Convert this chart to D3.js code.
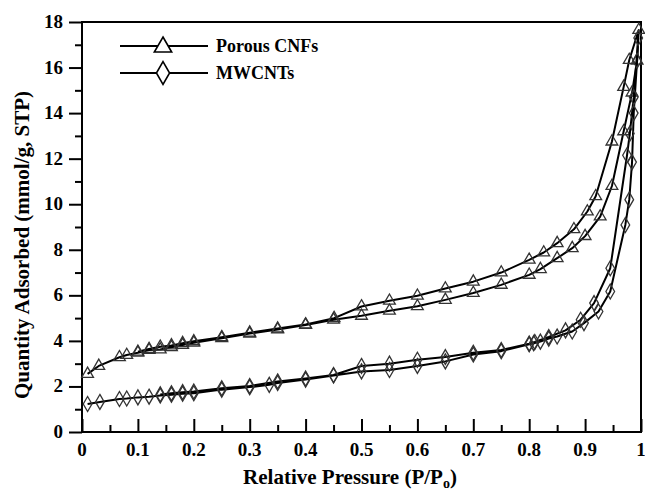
<!DOCTYPE html>
<html>
<head>
<meta charset="utf-8">
<script src="https://cdn.jsdelivr.net/npm/d3@7"></script>
<style>
  body { margin: 0; background: #fff; }
  svg text { font-family: 'Liberation Serif', 'Times New Roman', serif; font-weight: bold; fill: #000; }
</style>
</head>
<body>
<div id="chart"></div>
<script>
// Porous CNFs — adsorption branch then desorption branch [P/Po, mmol/g]
const cnfAds = [
  [0.01, 2.55], [0.03, 2.9], [0.067, 3.28], [0.08, 3.38], [0.1, 3.48], [0.12, 3.6],
  [0.14, 3.62], [0.16, 3.72], [0.18, 3.82], [0.2, 3.92], [0.25, 4.12], [0.3, 4.32],
  [0.35, 4.5], [0.4, 4.7], [0.45, 4.93], [0.5, 5.1], [0.55, 5.32], [0.6, 5.52],
  [0.65, 5.8], [0.7, 6.1], [0.75, 6.46], [0.8, 6.9], [0.82, 7.15], [0.85, 7.63],
  [0.877, 8.07], [0.9, 8.6], [0.927, 9.46], [0.948, 10.8], [0.969, 13.2],
  [0.984, 14.9], [0.993, 16.3], [0.996, 17.65]
];
const cnfDes = [
  [0.996, 17.65], [0.979, 16.33], [0.969, 15.15], [0.948, 12.75], [0.919, 10.35],
  [0.904, 9.68], [0.88, 8.9], [0.85, 8.29], [0.826, 7.88], [0.8, 7.56], [0.75, 7.0],
  [0.7, 6.6], [0.65, 6.3], [0.6, 5.98], [0.55, 5.76], [0.5, 5.51], [0.451, 5.0],
  [0.4, 4.72], [0.35, 4.54], [0.3, 4.36], [0.25, 4.16], [0.2, 3.98], [0.18, 3.9],
  [0.16, 3.8], [0.14, 3.74], [0.12, 3.64], [0.1, 3.52]
];

// MWCNTs
const mwAds = [
  [0.01, 1.23], [0.032, 1.32], [0.067, 1.45], [0.08, 1.47], [0.1, 1.52], [0.12, 1.55],
  [0.14, 1.6], [0.16, 1.64], [0.18, 1.68], [0.2, 1.7], [0.25, 1.86], [0.3, 1.97],
  [0.335, 2.07], [0.35, 2.15], [0.4, 2.3], [0.45, 2.48], [0.5, 2.66], [0.55, 2.72],
  [0.6, 2.9], [0.65, 3.1], [0.7, 3.4], [0.75, 3.55], [0.8, 3.85], [0.808, 3.9],
  [0.82, 3.97], [0.835, 4.1], [0.85, 4.19], [0.877, 4.41], [0.898, 4.78],
  [0.924, 5.29], [0.945, 6.17], [0.972, 9.09], [0.979, 10.2], [0.984, 11.85],
  [0.987, 14.0], [0.993, 16.3], [0.995, 17.3]
];
const mwDes = [
  [0.995, 17.3], [0.987, 14.7], [0.98, 13.1], [0.975, 12.15], [0.945, 7.19],
  [0.916, 5.66], [0.892, 4.93], [0.865, 4.46], [0.835, 4.17], [0.81, 3.95],
  [0.8, 3.88], [0.75, 3.6], [0.7, 3.48], [0.65, 3.29], [0.6, 3.17], [0.55, 3.0],
  [0.5, 2.9], [0.45, 2.5], [0.4, 2.35], [0.35, 2.22], [0.3, 2.02], [0.25, 1.92],
  [0.2, 1.78], [0.18, 1.75], [0.16, 1.7], [0.14, 1.65]
];

const xTicks = [0, 0.1, 0.2, 0.3, 0.4, 0.5, 0.6, 0.7, 0.8, 0.9, 1];
const xMinor = [0.05, 0.15, 0.25, 0.35, 0.45, 0.55, 0.65, 0.75, 0.85, 0.95];
const yTicks = [0, 2, 4, 6, 8, 10, 12, 14, 16, 18];
const yMinor = [1, 3, 5, 7, 9, 11, 13, 15, 17];

const seriesNames = ['Porous CNFs', 'MWCNTs'];

const W = 645, H = 491;
const m = { left: 82, right: 4, top: 22, bottom: 59 };

const svg = d3.select('#chart').append('svg')
  .attr('width', W).attr('height', H);

const x = d3.scaleLinear().domain([0, 1]).range([m.left, W - m.right]);
const y = d3.scaleLinear().domain([0, 18]).range([H - m.bottom, m.top]);

const tri = d3.symbol().type(d3.symbolTriangle);
const dia = d3.symbol().type(d3.symbolDiamond);

// X axis: ticks point inward
svg.append('g').attr('transform', `translate(0,${y(0)})`)
  .call(d3.axisTop(x).tickValues(xTicks).tickSize(13).tickFormat(''))
  .select('.domain').remove();
svg.append('g').attr('transform', `translate(0,${y(0)})`)
  .call(d3.axisTop(x).tickValues(xMinor).tickSize(7).tickFormat(''))
  .select('.domain').remove();
svg.append('g').selectAll('text').data(xTicks).join('text')
  .attr('x', d => x(d)).attr('y', y(0) + 24)
  .attr('text-anchor', 'middle').attr('font-size', 19)
  .text(d => d === 0 || d === 1 ? d : d.toFixed(1));

// Y axis: ticks point outward
svg.append('g').attr('transform', `translate(${x(0)},0)`)
  .call(d3.axisLeft(y).tickValues(yTicks).tickSize(13).tickFormat(''))
  .select('.domain').remove();
svg.append('g').attr('transform', `translate(${x(0)},0)`)
  .call(d3.axisLeft(y).tickValues(yMinor).tickSize(7).tickFormat(''))
  .select('.domain').remove();
svg.append('g').selectAll('text').data(yTicks).join('text')
  .attr('x', x(0) - 19).attr('y', d => y(d) + 6)
  .attr('text-anchor', 'end').attr('font-size', 19)
  .text(d => d);

svg.selectAll('.tick line').attr('stroke', '#000').attr('stroke-width', 2);

// frame
svg.append('rect')
  .attr('x', x(0)).attr('y', y(18))
  .attr('width', x(1) - x(0)).attr('height', y(0) - y(18))
  .attr('fill', 'none').attr('stroke', '#000').attr('stroke-width', 2);

const line = d3.line().x(d => x(d[0])).y(d => y(d[1]));

function drawSeries(ads, des, sym, size) {
  const g = svg.append('g');
  const pts = ads.concat(des.slice(1));
  g.append('path').datum(pts)
    .attr('d', line).attr('fill', 'none')
    .attr('stroke', '#000').attr('stroke-width', 2).attr('stroke-linejoin', 'round');
  g.selectAll('path.mk').data(pts).join('path')
    .attr('class', 'mk')
    .attr('transform', d => `translate(${x(d[0])},${y(d[1])})`)
    .attr('d', sym.size(size))
    .attr('fill', 'none').attr('stroke', '#333').attr('stroke-width', 1.3);
}
drawSeries(cnfAds, cnfDes, tri, 60);
drawSeries(mwAds, mwDes, dia, 65);

// legend
const legend = svg.append('g');
[[tri, 46, 130], [dia, 73, 150]].forEach(([sym, ly, sz], i) => {
  legend.append('line').attr('x1', 120).attr('x2', 208).attr('y1', ly).attr('y2', ly)
    .attr('stroke', '#000').attr('stroke-width', 2);
  legend.append('path').attr('transform', `translate(163,${ly + (i === 0 ? 1 : 0)})`)
    .attr('d', sym.size(sz)).attr('fill', '#fff').attr('stroke', '#000').attr('stroke-width', 1.6);
  legend.append('text').attr('x', 216).attr('y', ly + 6).attr('font-size', 18)
    .text(seriesNames[i]);
});

// axis titles
const xt = svg.append('text').attr('x', 350).attr('y', 484)
  .attr('text-anchor', 'middle').attr('font-size', 21);
xt.append('tspan').text('Relative Pressure (P/P');
xt.append('tspan').attr('font-size', 14).attr('dy', 4).text('o');
xt.append('tspan').attr('dy', -4).text(')');

svg.append('text')
  .attr('transform', 'translate(29,245) rotate(-90)')
  .attr('text-anchor', 'middle').attr('font-size', 21)
  .text('Quantity Adsorbed (mmol/g, STP)');
</script>
</body>
</html>
